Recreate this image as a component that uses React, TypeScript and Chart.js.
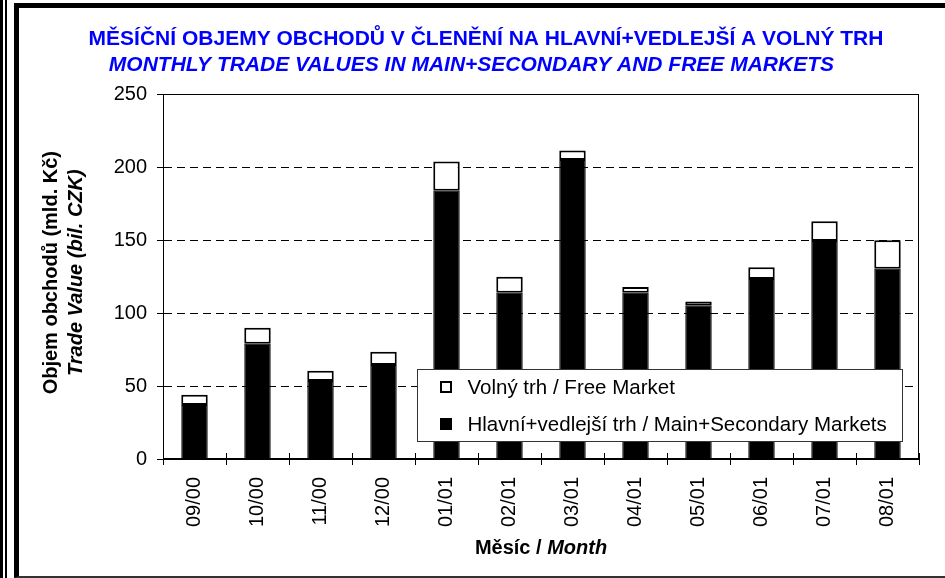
import React, { useEffect, useRef } from 'react';
import { Chart, registerables } from 'chart.js';

Chart.register(...registerables);

const months = ['09/00', '10/00', '11/00', '12/00', '01/01', '02/01', '03/01', '04/01', '05/01', '06/01', '07/01', '08/01'];
const mainMarkets = [37, 79, 53.5, 64.5, 184, 114, 205, 114, 105, 123.5, 149.5, 130.5];
const freeMarket = [7, 11, 7, 9, 20, 11, 6.5, 4, 3, 8, 13.5, 19.5];
const yTickValues = [0, 50, 100, 150, 200, 250];

const titleCz = 'MĚSÍČNÍ OBJEMY OBCHODŮ V ČLENĚNÍ NA HLAVNÍ+VEDLEJŠÍ A VOLNÝ TRH';
const titleEn = 'MONTHLY TRADE VALUES IN MAIN+SECONDARY AND FREE MARKETS     ';
const yTitleCz = 'Objem obchodů (mld. Kč)';
const yTitleEn = 'Trade Value (bil. CZK)';
const xTitleCz = 'Měsíc / ';
const xTitleEn = 'Month';
const mainLabel = 'Hlavní+vedlejší trh / Main+Secondary Markets';
const freeLabel = 'Volný trh / Free Market';

const FONT = '"Liberation Sans", Arial, Helvetica, sans-serif';

const decorations = {
  id: 'decorations',
  afterDraw(chart: any) {
    const { ctx, chartArea: a, scales } = chart;
    const x = scales.x;
    ctx.save();
    ctx.setLineDash([]);
    ctx.strokeStyle = '#000';
    ctx.lineWidth = 1;
    // plot border
    const L = Math.round(a.left) + 0.5;
    const T = Math.round(a.top) + 0.5;
    const R = Math.round(a.right) - 0.5;
    const B = Math.round(a.bottom) - 0.5;
    ctx.strokeRect(L, T, R - L, B - T);
    // inward part of crossing x tick marks
    const step = x.getPixelForValue(1) - x.getPixelForValue(0);
    for (let i = 0; i <= months.length; i++) {
      const px = Math.round(x.getPixelForValue(i) - step / 2) + 0.5;
      ctx.beginPath();
      ctx.moveTo(px, a.bottom);
      ctx.lineTo(px, a.bottom - 6);
      ctx.stroke();
    }
    // y axis title (two lines)
    const cy = (a.top + a.bottom) / 2 - 4;
    ctx.fillStyle = '#000';
    ctx.textAlign = 'center';
    ctx.textBaseline = 'alphabetic';
    ctx.save();
    ctx.translate(a.left - 106, cy);
    ctx.rotate(-Math.PI / 2);
    ctx.font = `bold 20px ${FONT}`;
    ctx.fillText(yTitleCz, 0, 0);
    ctx.restore();
    ctx.save();
    ctx.translate(a.left - 81, cy);
    ctx.rotate(-Math.PI / 2);
    ctx.font = `italic bold 20px ${FONT}`;
    ctx.fillText(yTitleEn, 0, 0);
    ctx.restore();
    // x axis title (mixed styles)
    ctx.textAlign = 'left';
    ctx.font = `bold 20px ${FONT}`;
    const w1 = ctx.measureText(xTitleCz).width;
    ctx.font = `italic bold 20px ${FONT}`;
    const w2 = ctx.measureText(xTitleEn).width;
    const sx = (a.left + a.right) / 2 - (w1 + w2) / 2;
    const by = a.bottom + 95;
    ctx.font = `bold 20px ${FONT}`;
    ctx.fillText(xTitleCz, sx, by);
    ctx.font = `italic bold 20px ${FONT}`;
    ctx.fillText(xTitleEn, sx + w1, by);
    // legend box
    const lx = Math.round(a.right - 502) + 0.5;
    const ly = Math.round(a.bottom - 90) + 0.5;
    const lw = 485;
    const lh = 72;
    ctx.fillStyle = '#fff';
    ctx.fillRect(lx, ly, lw, lh);
    ctx.strokeStyle = '#333';
    ctx.strokeRect(lx, ly, lw, lh);
    const items = [chart.data.datasets[1], chart.data.datasets[0]];
    const rows = [ly + 17, ly + 54];
    items.forEach((ds: any, i: number) => {
      const ry = Math.round(rows[i]);
      const qx = Math.round(lx) + 22;
      if (ds.backgroundColor === '#ffffff') {
        ctx.fillStyle = '#fff';
        ctx.fillRect(qx, ry - 6, 12, 12);
        ctx.strokeStyle = '#000';
        ctx.lineWidth = 2;
        ctx.strokeRect(qx + 1, ry - 5, 10, 10);
        ctx.lineWidth = 1;
      } else {
        ctx.fillStyle = '#000';
        ctx.fillRect(qx, ry - 6, 12, 12);
      }
      ctx.fillStyle = '#000';
      ctx.font = `20.5px ${FONT}`;
      ctx.textBaseline = 'middle';
      ctx.textAlign = 'left';
      ctx.fillText(ds.label, lx + 50, ry + 1);
    });
    ctx.restore();
  },
};

function App() {
  const canvasRef = useRef<HTMLCanvasElement | null>(null);

  useEffect(() => {
    if (!canvasRef.current) return;
    const chart = new Chart(canvasRef.current, {
      type: 'bar',
      data: {
        labels: months,
        datasets: [
          {
            label: mainLabel,
            data: mainMarkets,
            backgroundColor: '#000000',
            borderColor: '#000000',
            borderWidth: 1,
            barPercentage: 0.42,
            categoryPercentage: 1,
          },
          {
            label: freeLabel,
            data: freeMarket,
            backgroundColor: '#ffffff',
            borderColor: '#000000',
            borderWidth: 2,
            borderSkipped: false,
            barPercentage: 0.42,
            categoryPercentage: 1,
          },
        ],
      },
      options: {
        animation: false,
        responsive: true,
        maintainAspectRatio: false,
        layout: { padding: { left: 53, right: 26, top: 0, bottom: 0 } },
        plugins: {
          legend: { display: false },
          tooltip: { enabled: false },
          title: {
            display: true,
            text: titleCz,
            color: '#0000ff',
            font: { family: FONT, size: 21, weight: 'bold' },
            padding: { top: 27, bottom: 0 },
          },
          subtitle: {
            display: true,
            text: titleEn,
            color: '#0000ff',
            font: { family: FONT, size: 21, weight: 'bold', style: 'italic' },
            padding: { top: 0, bottom: 17 },
          },
        },
        scales: {
          x: {
            stacked: true,
            afterFit: (s: any) => {
              s.height = 119;
            },
            grid: {
              display: true,
              drawOnChartArea: false,
              drawTicks: true,
              tickLength: 6,
              color: '#000',
              offset: true,
            },
            border: { display: true, color: '#000', width: 1 },
            ticks: {
              color: '#000',
              font: { family: FONT, size: 20 },
              maxRotation: 90,
              minRotation: 90,
              padding: 12,
            },
          },
          y: {
            stacked: true,
            min: 0,
            max: 250,
            afterFit: (s: any) => {
              s.width = 110;
            },
            afterBuildTicks: (s: any) => {
              s.ticks = yTickValues.map((v) => ({ value: v }));
            },
            grid: {
              color: '#000',
              lineWidth: 1,
              drawTicks: true,
              tickLength: 6,
              tickBorderDash: [],
              tickColor: '#000',
            },
            border: { display: true, color: '#000', width: 1, dash: [8, 5] },
            ticks: {
              color: '#000',
              font: { family: FONT, size: 20 },
              padding: 10,
            },
          },
        },
      },
      plugins: [decorations],
    } as any);
    return () => chart.destroy();
  }, []);

  return (
    <div style={{ position: 'fixed', left: 0, top: 0, width: 945, height: 578, background: '#fff', overflow: 'hidden' }}>
      <div style={{ position: 'absolute', left: 0, top: 0, width: 3, height: 578, background: '#000' }} />
      <div style={{ position: 'absolute', left: 5, top: 0, width: 2, height: 578, background: '#000' }} />
      <div
        style={{
          position: 'absolute',
          left: 14,
          top: 3,
          width: 960,
          height: 575,
          boxSizing: 'border-box',
          borderLeft: '5px solid #000',
          borderTop: '5px solid #000',
          borderBottom: '2px solid #333',
        }}
      />
      <div style={{ position: 'absolute', left: 0, top: 0, width: 945, height: 578 }}>
        <canvas ref={canvasRef} />
      </div>
    </div>
  );
}

export default App;
